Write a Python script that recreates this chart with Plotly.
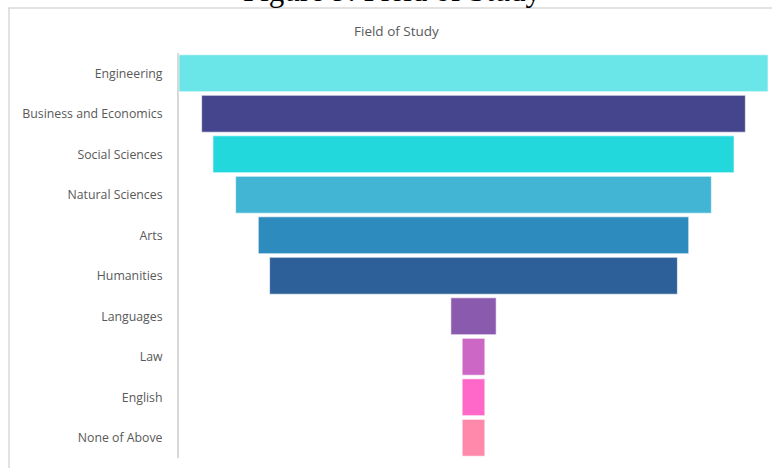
import plotly.graph_objects as go

# Field of study responses (number of respondents)
fields = [
    "Engineering", "Business and Economics", "Social Sciences", "Natural Sciences",
    "Arts", "Humanities", "Languages", "Law", "English", "None of Above",
]
counts = [26, 24, 23, 21, 19, 18, 2, 1, 1, 1]
colors = [
    "#6ae6e9", "#45458d", "#23d8dd", "#42b5d5", "#2d8bbd",
    "#2d5f98", "#8a5aae", "#cc67c6", "#ff67c9", "#ff89ab",
]

W, H = 772, 468
L, R, T, B = 179, 4, 53, 10
pw, ph = W - L - R, H - T - B


def px_x(x):
    return (x - L) / pw


def px_y(y):
    return (H - B - y) / ph


fig = go.Figure(
    go.Funnel(
        y=fields,
        x=counts,
        marker=dict(color=colors, line=dict(color="rgba(255,255,255,0.6)", width=1)),
        textinfo="none",
        connector=dict(visible=False),
        hoverinfo="y+x",
    )
)

grey_text = "#595959"
fig.update_layout(
    width=W,
    height=H,
    margin=dict(l=L, r=R, t=T, b=B),
    paper_bgcolor="white",
    plot_bgcolor="white",
    showlegend=False,
    funnelgap=0.09,
    font=dict(family="Open Sans, sans-serif", color=grey_text, size=12),
    xaxis=dict(visible=False, range=[-max(counts) / 2, max(counts) / 2]),
    yaxis=dict(
        showline=True,
        linecolor="#d9d9d9",
        linewidth=2,
        ticks="",
        ticklabelstandoff=12,
        tickfont=dict(size=12.3, color=grey_text),
        showgrid=False,
    ),
    shapes=[
        dict(type="line", xref="paper", yref="paper",
             x0=px_x(9), x1=px_x(9), y0=px_y(8), y1=px_y(H + 5),
             line=dict(color="#d9d9d9", width=1.5)),
        dict(type="line", xref="paper", yref="paper",
             x0=px_x(8), x1=px_x(W + 5), y0=px_y(8), y1=px_y(8),
             line=dict(color="#d9d9d9", width=1.5)),
    ],
    annotations=[
        dict(text="Field of Study", xref="paper", yref="paper",
             x=px_x(396), y=px_y(31), xanchor="center", yanchor="middle",
             showarrow=False, font=dict(size=13.5, color=grey_text)),
        dict(text="Figure 9: Field of Study", xref="paper", yref="paper",
             x=px_x(392), y=px_y(-9.7), xanchor="center", yanchor="middle",
             showarrow=False,
             font=dict(family="Liberation Serif, Times New Roman, serif", size=31, color="black")),
    ],
)

fig.write_html("out.html")
